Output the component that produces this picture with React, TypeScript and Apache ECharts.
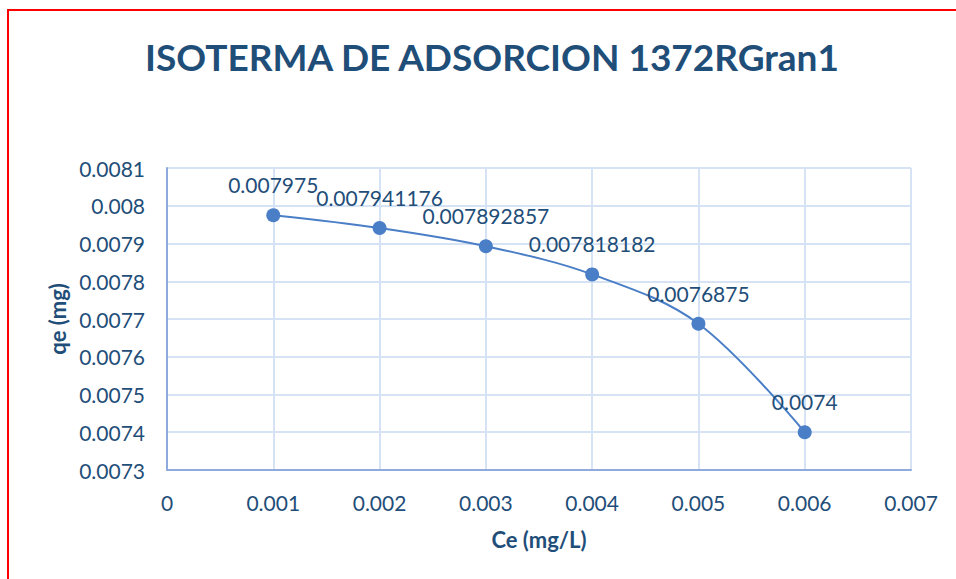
import React, { useEffect, useRef } from "react";
import * as echarts from "echarts";

const title = "ISOTERMA DE ADSORCION 1372RGran1";
const xName = "Ce (mg/L)";
const yName = "qe (mg)";
const ceValues = [0.001, 0.002, 0.003, 0.004, 0.005, 0.006];
const qeValues = [0.007975, 0.007941176, 0.007892857, 0.007818182, 0.0076875, 0.0074];

const TEXT = "#1F4E79";
const FONT = "Lato";

export default function App() {
  const ref = useRef<HTMLDivElement>(null);
  useEffect(() => {
    if (!ref.current) return;
    const chart = echarts.init(ref.current, null, { renderer: "svg" });
    chart.setOption({
      animation: false,
      backgroundColor: "#ffffff",
      title: {
        text: title,
        left: 487,
        textAlign: "center",
        top: 33,
        textStyle: { color: TEXT, fontFamily: FONT, fontWeight: "bold", fontSize: 37 },
      },
      graphic: [
        {
          type: "rect",
          shape: { x: 8, y: 10, width: 1200, height: 1000 },
          style: { fill: "none", stroke: "#FF0000", lineWidth: 2 },
          silent: true,
        },
      ],
      grid: { left: 167, top: 168, width: 744, height: 302 },
      xAxis: {
        type: "value",
        min: 0,
        max: 0.007,
        interval: 0.001,
        name: xName,
        nameLocation: "middle",
        nameGap: 58,
        nameTextStyle: { color: TEXT, fontFamily: FONT, fontWeight: "bold", fontSize: 22 },
        axisLine: { show: true, lineStyle: { color: "#8FAADC", width: 2 } },
        axisTick: { show: false },
        splitLine: { show: true, lineStyle: { color: "#D6E3F5", width: 2 } },
        axisLabel: {
          color: TEXT,
          fontFamily: FONT,
          fontSize: 21,
          margin: 22,
          formatter: (v: number) => String(+v.toFixed(3)),
        },
      },
      yAxis: {
        type: "value",
        min: 0.0073,
        max: 0.0081,
        interval: 0.0001,
        name: yName,
        nameLocation: "middle",
        nameGap: 98,
        nameTextStyle: { color: TEXT, fontFamily: FONT, fontWeight: "bold", fontSize: 22 },
        axisLine: { show: true, lineStyle: { color: "#8FAADC", width: 2 } },
        axisTick: { show: false },
        splitLine: { show: true, lineStyle: { color: "#D6E3F5", width: 2 } },
        axisLabel: {
          color: TEXT,
          fontFamily: FONT,
          fontSize: 21,
          margin: 22,
          formatter: (v: number) => String(+v.toFixed(4)),
        },
      },
      series: [
        {
          type: "line",
          data: ceValues.map((c, i) => [c, qeValues[i]]),
          smooth: 0.35,
          symbol: "circle",
          symbolSize: 14,
          itemStyle: { color: "#4A7EC6" },
          lineStyle: { color: "#4A7EC6", width: 2 },
          label: {
            show: true,
            position: "top",
            distance: 13,
            color: TEXT,
            fontFamily: FONT,
            fontSize: 21,
            formatter: (p: any) => String(p.value[1]),
          },
        },
      ],
    });
    return () => chart.dispose();
  }, []);
  return (
    <div
      ref={ref}
      style={{ position: "fixed", left: 0, top: 0, width: 956, height: 579 }}
    />
  );
}
